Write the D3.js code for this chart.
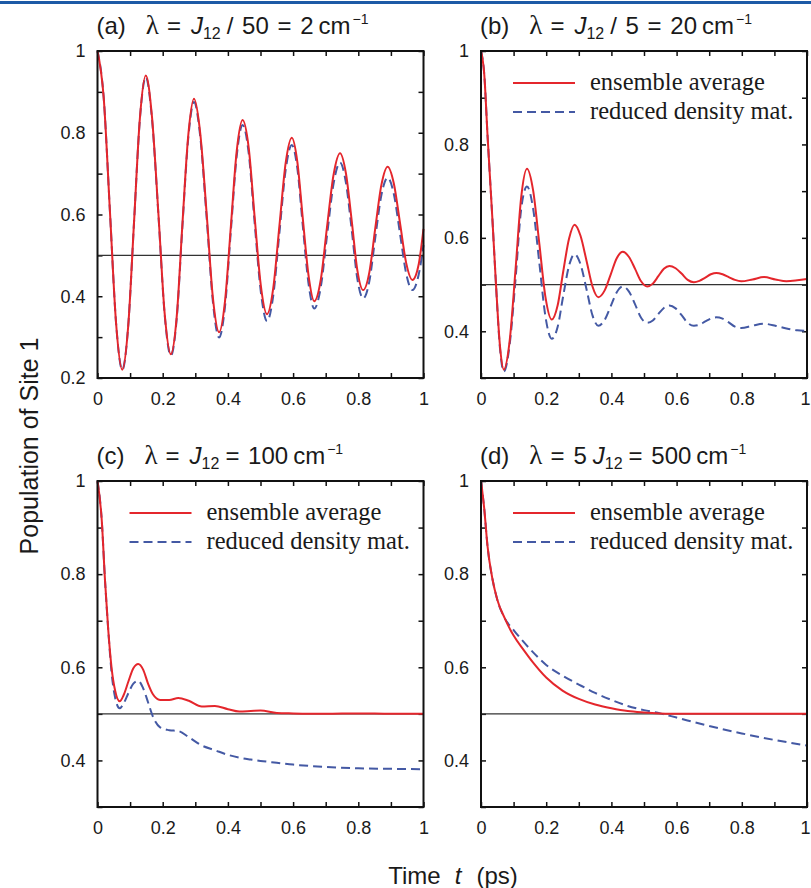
<!DOCTYPE html>
<html>
<head>
<meta charset="utf-8">
<script src="https://cdn.jsdelivr.net/npm/d3@7"></script>
<style>
  body { margin: 0; background: #fff; }
</style>
</head>
<body>
<svg id="chart"></svg>
<script>
// ---- data ----
let xTicks = [0, 0.1, 0.2, 0.3, 0.4, 0.5, 0.6, 0.7, 0.8, 0.9, 1]
let yTicksA = [0.2, 0.3, 0.4, 0.5, 0.6, 0.7, 0.8, 0.9, 1]
let yTicksB = [0.3, 0.4, 0.5, 0.6, 0.7, 0.8, 0.9, 1]
let legendLabels = ['ensemble average', 'reduced density mat.']
let halfLevel = 0.5

// (a) lambda = J12/50
let timeA = [0, 0.019, 0.038, 0.057, 0.076, 0.094, 0.112, 0.130, 0.148, 0.167, 0.187, 0.206, 0.225, 0.243, 0.260, 0.278, 0.296, 0.315, 0.335, 0.354, 0.373, 0.391, 0.409, 0.427, 0.445, 0.464, 0.482, 0.501, 0.520, 0.539, 0.558, 0.577, 0.596, 0.613, 0.630, 0.648, 0.665, 0.685, 0.704, 0.724, 0.744, 0.762, 0.780, 0.797, 0.815, 0.834, 0.852, 0.871, 0.890, 0.909, 0.928, 0.947, 0.966, 0.985, 1.0]
let ensembleA = [1, 0.886, 0.61, 0.334, 0.22, 0.325, 0.58, 0.835, 0.94, 0.84, 0.60, 0.358, 0.258, 0.35, 0.57, 0.79, 0.883, 0.80, 0.60, 0.396, 0.312, 0.387, 0.57, 0.755, 0.831, 0.762, 0.594, 0.426, 0.356, 0.419, 0.572, 0.725, 0.788, 0.729, 0.588, 0.447, 0.388, 0.441, 0.569, 0.697, 0.750, 0.701, 0.583, 0.464, 0.415, 0.459, 0.566, 0.673, 0.717, 0.676, 0.579, 0.481, 0.440, 0.477, 0.565]
let reducedA = [1, 0.886, 0.61, 0.334, 0.22, 0.325, 0.58, 0.833, 0.936, 0.835, 0.597, 0.355, 0.255, 0.345, 0.565, 0.783, 0.875, 0.792, 0.59, 0.386, 0.299, 0.374, 0.559, 0.743, 0.819, 0.749, 0.58, 0.411, 0.339, 0.401, 0.555, 0.708, 0.770, 0.713, 0.57, 0.427, 0.370, 0.423, 0.548, 0.675, 0.727, 0.678, 0.561, 0.443, 0.395, 0.437, 0.543, 0.648, 0.690, 0.650, 0.553, 0.455, 0.415, 0.452, 0.525]

// (b) lambda = J12/5
let timeB = [0, 0.01, 0.02, 0.035, 0.046, 0.058, 0.07, 0.088, 0.106, 0.123, 0.141, 0.16, 0.179, 0.198, 0.217, 0.235, 0.252, 0.27, 0.287, 0.305, 0.324, 0.342, 0.36, 0.379, 0.398, 0.416, 0.435, 0.454, 0.473, 0.491, 0.51, 0.527, 0.544, 0.561, 0.578, 0.597, 0.616, 0.634, 0.653, 0.67, 0.688, 0.705, 0.722, 0.741, 0.76, 0.779, 0.798, 0.833, 0.868, 0.903, 0.937, 0.97, 1.0]
let ensembleB = [1, 0.95, 0.82, 0.64, 0.5, 0.37, 0.318, 0.38, 0.533, 0.685, 0.748, 0.701, 0.587, 0.472, 0.425, 0.455, 0.527, 0.598, 0.628, 0.605, 0.55, 0.496, 0.473, 0.487, 0.522, 0.556, 0.570, 0.559, 0.533, 0.507, 0.496, 0.502, 0.518, 0.534, 0.540, 0.535, 0.523, 0.51, 0.505, 0.508, 0.515, 0.522, 0.525, 0.522, 0.516, 0.51, 0.507, 0.511, 0.516, 0.511, 0.507, 0.509, 0.512]
let reducedB = [1, 0.95, 0.82, 0.64, 0.5, 0.365, 0.314, 0.372, 0.512, 0.66, 0.71, 0.662, 0.546, 0.43, 0.384, 0.409, 0.475, 0.54, 0.565, 0.544, 0.489, 0.434, 0.412, 0.424, 0.454, 0.483, 0.496, 0.485, 0.457, 0.429, 0.418, 0.423, 0.437, 0.45, 0.455, 0.449, 0.434, 0.418, 0.412, 0.414, 0.421, 0.427, 0.43, 0.427, 0.419, 0.41, 0.407, 0.412, 0.416, 0.412, 0.406, 0.402, 0.401]

// (c) lambda = J12
let timeC = [0, 0.013, 0.023, 0.033, 0.043, 0.054, 0.068, 0.08, 0.095, 0.11, 0.125, 0.14, 0.155, 0.17, 0.192, 0.22, 0.248, 0.28, 0.32, 0.36, 0.4, 0.435, 0.47, 0.5, 0.55, 0.6, 0.7, 0.8, 0.9, 1.0]
let ensembleC = [1, 0.916, 0.787, 0.68, 0.60, 0.55, 0.527, 0.54, 0.57, 0.598, 0.607, 0.595, 0.565, 0.542, 0.530, 0.530, 0.534, 0.528, 0.516, 0.517, 0.51, 0.505, 0.506, 0.507, 0.502, 0.501, 0.500, 0.501, 0.500, 0.500]
let reducedC = [1, 0.916, 0.787, 0.68, 0.59, 0.535, 0.512, 0.522, 0.545, 0.565, 0.571, 0.555, 0.525, 0.494, 0.471, 0.465, 0.463, 0.45, 0.432, 0.422, 0.412, 0.406, 0.402, 0.399, 0.395, 0.391, 0.386, 0.383, 0.382, 0.381]

// (d) lambda = 5 J12
let timeD = [0, 0.01, 0.02, 0.035, 0.05, 0.073, 0.1, 0.13, 0.16, 0.2, 0.25, 0.3, 0.35, 0.4, 0.45, 0.5, 0.55, 0.6, 0.7, 0.8, 0.9, 1.0]
let ensembleD = [1, 0.94, 0.86, 0.79, 0.745, 0.705, 0.668, 0.638, 0.61, 0.578, 0.55, 0.532, 0.52, 0.512, 0.506, 0.503, 0.501, 0.5, 0.5, 0.5, 0.5, 0.5]
let reducedD = [1, 0.94, 0.86, 0.79, 0.745, 0.705, 0.68, 0.655, 0.632, 0.605, 0.582, 0.563, 0.545, 0.53, 0.517, 0.508, 0.501, 0.492, 0.474, 0.458, 0.444, 0.432]

// ---- layout ----
let width = 811
let height = 888
let panelW = 326
let sans = "'Liberation Sans', Arial, Helvetica, sans-serif"
let serif = "'Liberation Serif', 'Times New Roman', serif"
let redColor = '#e4262c'
let blueColor = '#4459a4'

let panels = [
    { tag: '(a)', coef: '', rest: '/ 50 = 2', left: 97.5, top: 51, bottom: 378, yMin: 0.2, yTicks: yTicksA, time: timeA, ens: ensembleA, rdm: reducedA, legend: false, edge: false },
    { tag: '(b)', coef: '', rest: '/ 5 = 20', left: 481, top: 51, bottom: 378, yMin: 0.3, yTicks: yTicksB, time: timeB, ens: ensembleB, rdm: reducedB, legend: true, edge: true },
    { tag: '(c)', coef: '', rest: '= 100', left: 97.5, top: 481, bottom: 807, yMin: 0.3, yTicks: yTicksB, time: timeC, ens: ensembleC, rdm: reducedC, legend: true, edge: false },
    { tag: '(d)', coef: '5', rest: '= 500', left: 481, top: 481, bottom: 807, yMin: 0.3, yTicks: yTicksB, time: timeD, ens: ensembleD, rdm: reducedD, legend: true, edge: true }
]

let svg = d3.select('#chart')
    .attr('width', width)
    .attr('height', height)
    .style('display', 'block')

// thin journal rule along the top
svg.append('rect')
    .attr('x', 0).attr('y', 1)
    .attr('width', width).attr('height', 3)
    .attr('fill', '#1d5aa6')

// label only the even tenths
let tickFmt = (d) => (Math.round(d * 10) % 2 === 0) ? String(+d.toFixed(1)) : ''

let styleAxis = (g) => {
    g.select('.domain').remove()
    g.selectAll('.tick line').attr('stroke', '#111').attr('stroke-width', 1.5)
    g.selectAll('text')
        .attr('font-family', sans)
        .attr('font-size', 18)
        .attr('fill', '#1a1a1a')
}

let drawTitle = (p) => {
    let t = svg.append('text')
        .attr('x', p.left - 1)
        .attr('y', p.top - 17)
        .attr('font-family', sans)
        .attr('font-size', 24)
        .attr('fill', '#1a1a1a')
    t.append('tspan').text(p.tag)
    t.append('tspan').attr('dx', 20).attr('font-family', serif).attr('font-size', 27).text('λ')
    t.append('tspan').attr('dx', 8).text('=')
    if (p.coef) t.append('tspan').attr('dx', 9).text(p.coef)
    t.append('tspan').attr('dx', p.coef ? 6 : 10).attr('font-style', 'italic').text('J')
    t.append('tspan').attr('font-size', 16).attr('dy', 5).text('12')
    t.append('tspan').attr('dy', -5).attr('dx', 6).attr('word-spacing', 2).text(p.rest)
    t.append('tspan').attr('dx', 5).text('cm')
    t.append('tspan').attr('font-size', 14).attr('dy', -10).attr('dx', 2).text('−1')
}

let drawPanel = (p) => {
    let x = d3.scaleLinear().domain([0, 1]).range([p.left, p.left + panelW])
    let y = d3.scaleLinear().domain([p.yMin, 1]).range([p.bottom, p.top])
    let g = svg.append('g')

    // ticks on all four sides, pointing inwards
    let bottomAxis = g.append('g')
        .attr('transform', 'translate(0,' + p.bottom + ')')
        .call(d3.axisBottom(x).tickValues(xTicks).tickSize(-5).tickPadding(14).tickFormat(tickFmt))
        .call(styleAxis)
    if (p.edge) {
        // keep the final "1" inside the page
        bottomAxis.selectAll('.tick text').filter((d) => d === 1).attr('dx', -2)
    }
    g.append('g')
        .attr('transform', 'translate(0,' + p.top + ')')
        .call(d3.axisTop(x).tickValues(xTicks).tickSize(-5).tickFormat(''))
        .call(styleAxis)
    g.append('g')
        .attr('transform', 'translate(' + p.left + ',0)')
        .call(d3.axisLeft(y).tickValues(p.yTicks).tickSize(-5).tickPadding(12).tickFormat(tickFmt))
        .call(styleAxis)
    g.append('g')
        .attr('transform', 'translate(' + (p.left + panelW) + ',0)')
        .call(d3.axisRight(y).tickValues(p.yTicks).tickSize(-5).tickFormat(''))
        .call(styleAxis)

    // reference line at one half
    g.append('line')
        .attr('x1', x(0)).attr('x2', x(1))
        .attr('y1', y(halfLevel)).attr('y2', y(halfLevel))
        .attr('stroke', '#333').attr('stroke-width', 1.3)

    let line = d3.line()
        .x((d, i) => x(p.time[i]))
        .y((d) => y(d))
        .curve(d3.curveMonotoneX)

    g.append('path')
        .attr('d', line(p.rdm))
        .attr('fill', 'none')
        .attr('stroke', blueColor)
        .attr('stroke-width', 2)
        .attr('stroke-dasharray', '9,5')

    g.append('path')
        .attr('d', line(p.ens))
        .attr('fill', 'none')
        .attr('stroke', redColor)
        .attr('stroke-width', 2)

    // frame
    g.append('rect')
        .attr('x', x(0)).attr('y', y(1))
        .attr('width', x(1) - x(0)).attr('height', y(p.yMin) - y(1))
        .attr('fill', 'none')
        .attr('stroke', '#111')
        .attr('stroke-width', 2)

    if (p.legend) {
        let rows = [p.top + 32, p.top + 61]
        legendLabels.forEach((label, i) => {
            g.append('line')
                .attr('x1', p.left + 32).attr('x2', p.left + 94)
                .attr('y1', rows[i]).attr('y2', rows[i])
                .attr('stroke', i === 0 ? redColor : blueColor)
                .attr('stroke-width', 2)
                .attr('stroke-dasharray', i === 0 ? null : '9,5')
            g.append('text')
                .attr('x', p.left + 109)
                .attr('y', rows[i] + 7)
                .attr('font-family', serif)
                .attr('font-size', 24.5)
                .attr('fill', '#1a1a1a')
                .text(label)
        })
    }

    drawTitle(p)
}

panels.forEach(drawPanel)

// shared axis titles
svg.append('text')
    .attr('transform', 'translate(38,446) rotate(-90)')
    .attr('text-anchor', 'middle')
    .attr('font-family', sans)
    .attr('font-size', 25)
    .attr('fill', '#1a1a1a')
    .text('Population of Site 1')

let xt = svg.append('text')
    .attr('x', 453)
    .attr('y', 884)
    .attr('text-anchor', 'middle')
    .attr('font-family', sans)
    .attr('font-size', 24)
    .attr('fill', '#1a1a1a')
xt.append('tspan').text('Time')
xt.append('tspan').attr('dx', 14).attr('font-style', 'italic').text('t')
xt.append('tspan').attr('dx', 15).text('(ps)')
</script>
</body>
</html>
